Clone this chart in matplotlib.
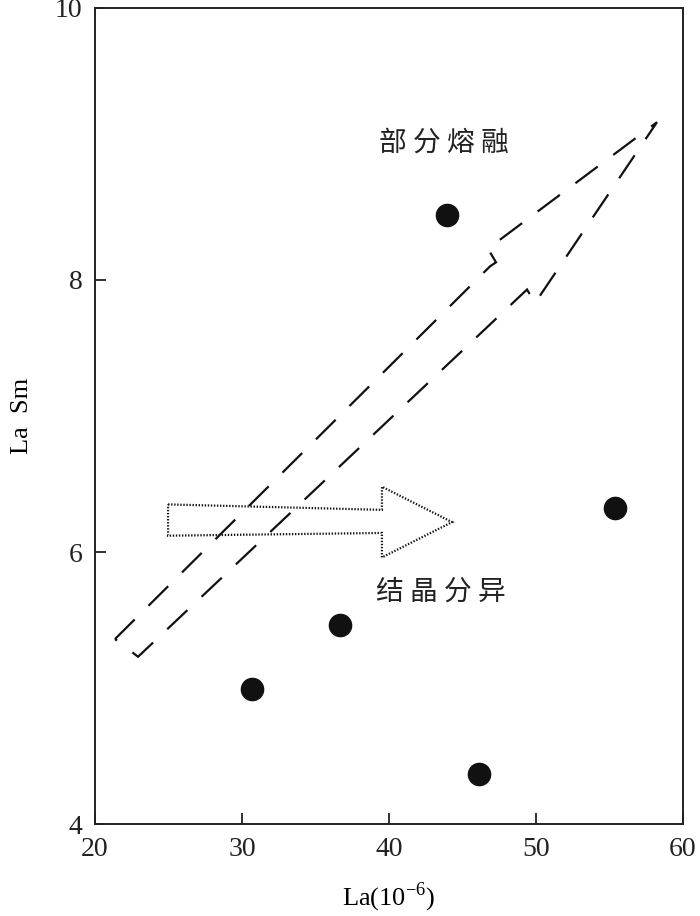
import matplotlib
matplotlib.use('Agg')
import matplotlib.pyplot as plt
from matplotlib.patches import Polygon

plt.rcParams['font.family'] = ['Liberation Serif', 'Noto Sans CJK SC']
plt.rcParams['mathtext.fontset'] = 'custom'
plt.rcParams['mathtext.rm'] = 'Liberation Serif'
plt.rcParams['lines.scale_dashes'] = False

# sample points
la = [43.95, 55.37, 36.67, 30.68, 46.12]
la_sm = [8.48, 6.32, 5.46, 4.99, 4.37]

xticks = [20, 30, 40, 50, 60]
yticks = [4, 6, 8, 10]

# trend arrows (data coords)
melt_x = [21.36, 46.87, 47.28, 46.73, 58.23, 49.93, 49.39, 22.93]
melt_y = [5.36, 8.10, 8.13, 8.23, 9.16, 7.83, 7.93, 5.23]
frac_x = [24.97, 39.52, 39.52, 44.29, 39.52, 39.52, 24.97]
frac_y = [6.35, 6.31, 6.48, 6.22, 5.96, 6.14, 6.12]

fig = plt.figure(figsize=(7, 9.16), dpi=100)
ax = fig.add_axes([0.1357, 0.1004, 0.84, 0.8909])

ax.add_patch(Polygon(list(zip(melt_x, melt_y)), closed=True, fill=False,
                     edgecolor='#111111', linewidth=1.6, linestyle=(0, (20, 14)),
                     joinstyle='miter'))
ax.add_patch(Polygon(list(zip(frac_x, frac_y)), closed=True, fill=False,
                     edgecolor='#111111', linewidth=1.6, linestyle=(0, (1, 1.2))))

ax.plot(la, la_sm, 'o', color='#111111', markersize=16, zorder=3)

ax.text(43.74, 9.01, '部 分 熔 融', fontsize=20, ha='center', va='center',
        family=['Noto Sans CJK SC'], color='#222222')
ax.text(43.5, 5.71, '结 晶 分 异', fontsize=20, ha='center', va='center',
        family=['Noto Sans CJK SC'], color='#222222')

ax.set_xlim(20, 60)
ax.set_ylim(4, 10)
ax.set_xticks(xticks)
ax.set_yticks(yticks)
ax.tick_params(direction='in', length=8, width=1.3, labelsize=20, pad=9,
               colors='#222222')
for s in ax.spines.values():
    s.set_linewidth(1.4)
    s.set_color('#222222')

ax.set_xlabel(r'La(10$^{-6}$)', fontsize=19, labelpad=14)
ax.set_ylabel('La  Sm', fontsize=19, labelpad=16)

plt.savefig('out.png', dpi=100)
